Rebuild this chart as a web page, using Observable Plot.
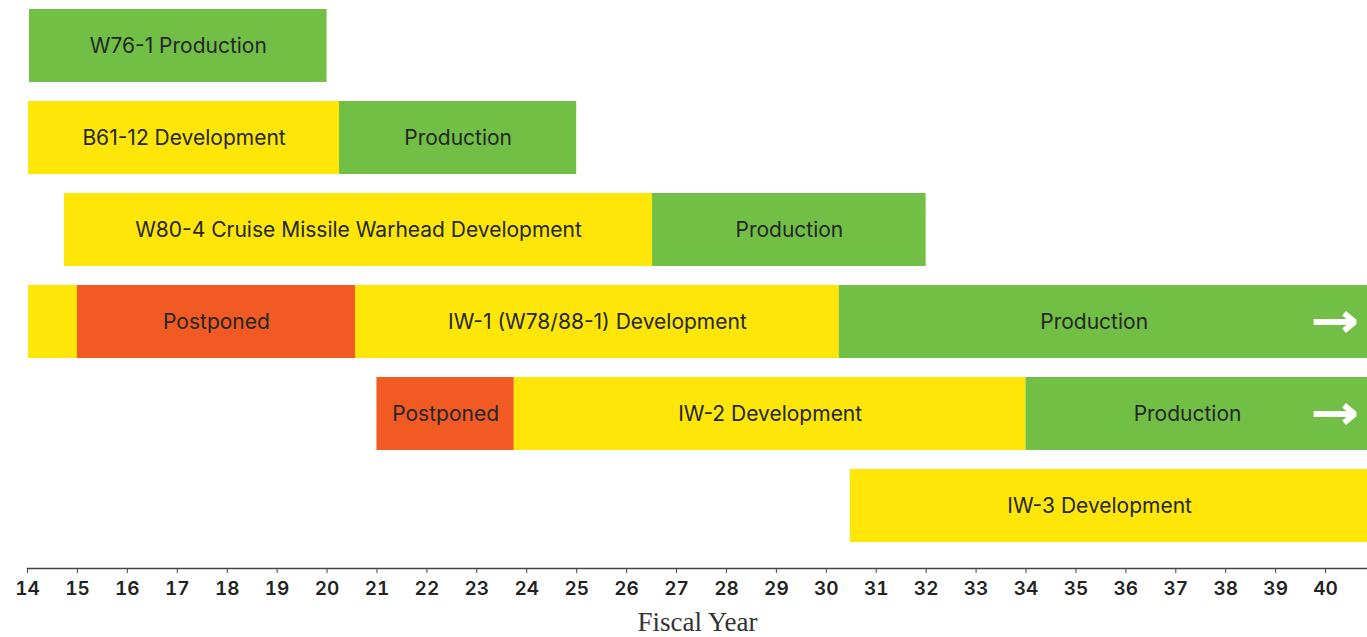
<!DOCTYPE html>
<html>
<head>
<meta charset="utf-8">
<script src="https://cdn.jsdelivr.net/npm/d3@7"></script>
<script src="https://cdn.jsdelivr.net/npm/@observablehq/plot@0.6"></script>
<style>
  html, body { margin: 0; padding: 0; background: #fff; }
  #chart svg { display: block; }
</style>
</head>
<body>
<div id="chart"></div>
<script>
// ---- Data ----
const rows = ["W76-1", "B61-12", "W80-4", "IW-1", "IW-2", "IW-3"];

const segRow   = ["W76-1", "B61-12", "B61-12", "W80-4", "W80-4", "IW-1", "IW-1", "IW-1", "IW-1", "IW-2", "IW-2", "IW-2", "IW-3"];
const segStart = [14.04, 14.02, 20.25, 14.74, 26.52, 14.02, 15.0, 20.57, 30.26, 21.0, 23.75, 34.0, 30.48];
const segEnd   = [20.0, 20.25, 25.0, 26.52, 32.0, 15.0, 20.57, 30.26, 40.84, 23.75, 34.0, 40.84, 40.84];
const segPhase = ["Production", "Development", "Production", "Development", "Production", "Development", "Postponed", "Development", "Production", "Postponed", "Development", "Production", "Development"];
const segLabel = ["W76-1 Production", "B61-12 Development", "Production", "W80-4 Cruise Missile Warhead Development", "Production", "", "Postponed", "IW-1 (W78/88-1) Development", "Production", "Postponed", "IW-2 Development", "Production", "IW-3 Development"];

const arrowRow   = ["IW-1", "IW-2"];
const arrowStart = [39.76, 39.76];
const arrowEnd   = [40.58, 40.58];

const phases = ["Development", "Production", "Postponed"];
const phaseColors = ["#fde608", "#72bf46", "#f15a22"];

const xTicks = d3.range(14, 41);
const xDomain = [14, 40.84];
const labelRight = 40.47; // open-ended periods: labels centred up to FY40.5

// ---- Tables built from arrays ----
const segments = segRow.map((r, i) => ({
  row: r, start: segStart[i], end: segEnd[i], phase: segPhase[i], label: segLabel[i],
  mid: (segStart[i] + Math.min(segEnd[i], labelRight)) / 2
}));
const arrows = arrowRow.map((r, i) => ({row: r, x1: arrowStart[i], x2: arrowEnd[i]}));

const chart = Plot.plot({
  width: 1367,
  height: 637,
  marginLeft: 27,
  marginRight: 0,
  marginTop: 0,
  marginBottom: 69,
  style: {fontFamily: "Inter, sans-serif", background: "#fff"},
  x: {domain: xDomain, ticks: xTicks, tickFormat: d => String(d), label: null},
  y: {type: "band", domain: rows, range: [9, 542.5], paddingInner: 0.207, paddingOuter: 0, axis: null},
  color: {domain: phases, range: phaseColors},
  marks: [
    Plot.barX(segments, {x1: "start", x2: "end", y: "row", fill: "phase"}),
    Plot.text(segments.filter(d => d.label), {
      x: "mid", y: "row", text: "label", fill: "#262626",
      fontSize: 21, fontWeight: 400
    }),
    Plot.arrow(arrows, {
      x1: "x1", x2: "x2", y: "row", stroke: "white", strokeWidth: 6,
      headLength: 12, headAngle: 80, strokeLinejoin: "miter", strokeLinecap: "butt"
    }),
    Plot.frame({anchor: "bottom", stroke: "#444", strokeWidth: 1.5}),
    Plot.axisX({
      ticks: xTicks, tickFormat: d => String(d), tickSize: 5, tickPadding: 8,
      fontSize: 19, fontWeight: 600, color: "#222", stroke: "#444", label: null
    }),
    Plot.text(["Fiscal Year"], {
      frameAnchor: "bottom", dy: 62, text: d => d,
      fontFamily: "'Liberation Serif', 'DejaVu Serif', serif", fontSize: 27, fill: "#333"
    })
  ]
});

document.getElementById("chart").appendChild(chart);
</script>
</body>
</html>
